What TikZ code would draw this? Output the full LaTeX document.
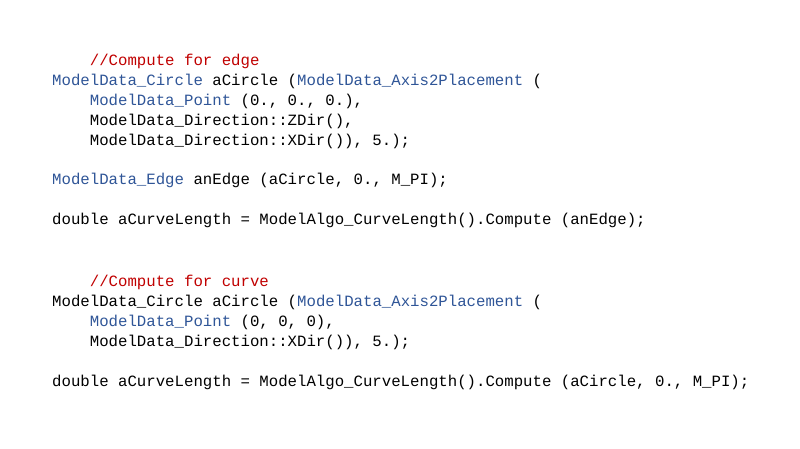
\documentclass[tikz,border=0pt]{standalone}
\usepackage{fontspec}
\setmonofont{Liberation Mono}
\usepackage{xcolor}
\definecolor{cmt}{RGB}{192,0,0}
\definecolor{typ}{RGB}{47,85,151}
\begin{document}
\begin{tikzpicture}[x=1pt,y=-1pt,
  code/.style={anchor=base west,inner sep=0pt,font=\fontsize{15.7}{18}\ttfamily}]
\useasboundingbox (0,0) rectangle (800,449);
% edge block
\node[code] (l1) at (52,66) {\phantom{xxxx}\textcolor{cmt}{//Compute for edge}};
\node[code] (l2) at (52,86) {\textcolor{typ}{ModelData\_Circle} aCircle (\textcolor{typ}{ModelData\_Axis2Placement} (};
\node[code] (l3) at (52,106) {\phantom{xxxx}\textcolor{typ}{ModelData\_Point} (0., 0., 0.),};
\node[code] (l4) at (52,126) {\phantom{xxxx}ModelData\_Direction::ZDir(),};
\node[code] (l5) at (52,146) {\phantom{xxxx}ModelData\_Direction::XDir()), 5.);};
\node[code] (l6) at (52,185) {\textcolor{typ}{ModelData\_Edge} anEdge (aCircle, 0., M\_PI);};
\node[code] (l7) at (52,225) {double aCurveLength = ModelAlgo\_CurveLength().Compute (anEdge);};
% curve block
\node[code] (l8) at (52,286) {\phantom{xxxx}\textcolor{cmt}{//Compute for curve}};
\node[code] (l9) at (52,306) {ModelData\_Circle aCircle (\textcolor{typ}{ModelData\_Axis2Placement} (};
\node[code] (l10) at (52,326) {\phantom{xxxx}\textcolor{typ}{ModelData\_Point} (0, 0, 0),};
\node[code] (l11) at (52,346) {\phantom{xxxx}ModelData\_Direction::XDir()), 5.);};
\node[code] (l12) at (52,386) {double aCurveLength = ModelAlgo\_CurveLength().Compute (aCircle, 0., M\_PI);};
\end{tikzpicture}
\end{document}
